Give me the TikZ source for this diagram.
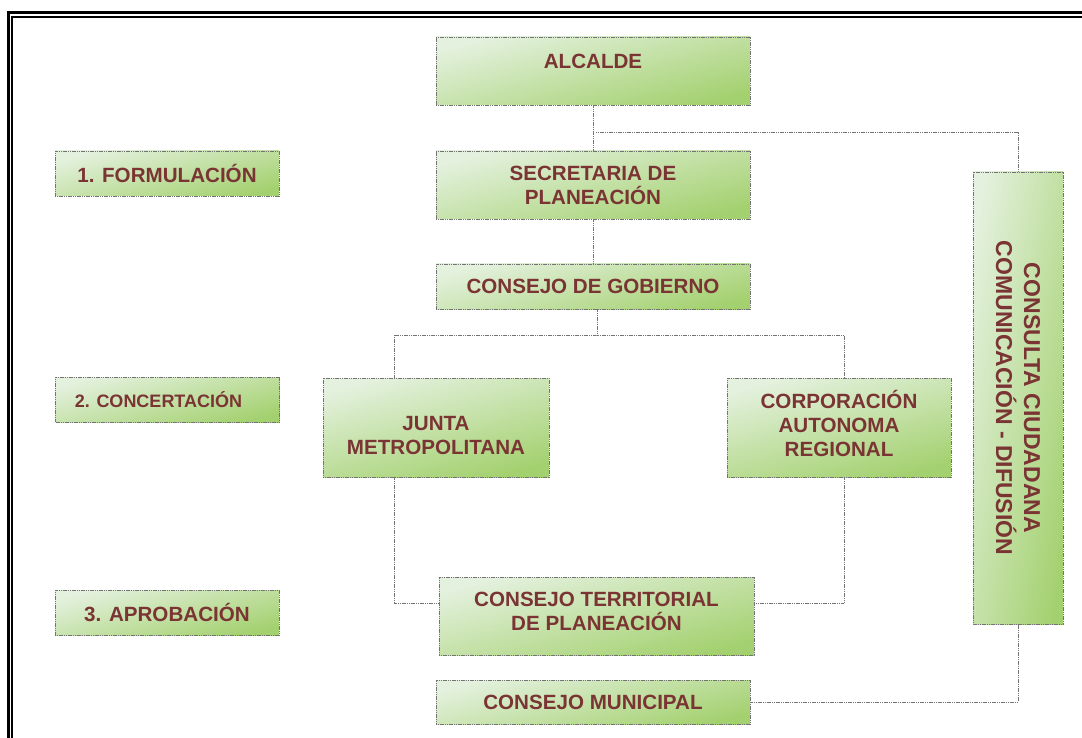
\documentclass[tikz,border=0pt]{standalone}
\usepackage{fontspec}
\setmainfont{Liberation Sans}
\usepackage{xcolor}
\definecolor{txtred}{RGB}{122,52,52}
\definecolor{lightgr}{RGB}{228,241,222}
\definecolor{darkgr}{RGB}{164,209,112}
\definecolor{edgegr}{RGB}{115,115,115}

\begin{document}
\begin{tikzpicture}[x=1pt,y=-1pt,
            box/.style={draw=edgegr, line width=0.7pt, dash pattern=on 1.2pt off 0.6pt,
              top color=lightgr, bottom color=darkgr, shading angle=15,
              text=txtred, font=\bfseries\fontsize{20.6}{24}\selectfont, align=center,
              inner sep=0pt, minimum width=314pt, minimum height=68pt},
            phase/.style={box, minimum width=224pt, minimum height=45pt},
            link/.style={draw=edgegr, line width=0.6pt, dash pattern=on 1.2pt off 0.6pt}]
            \useasboundingbox (0,0) rectangle (1082,738);
            % double frame
            \draw[line width=3pt] (8.5,738) -- (8.5,12.8) -- (1082,12.8);
            \draw[line width=1.8pt] (12.3,738) -- (12.3,17.3) -- (1082,17.3);
            % middle column
            \node[box, text depth=20pt] (A) at (593,71){ALCALDE};
            \node[box] (B) at (593,185){SECRETARIA DE\\PLANEACIÓN};
            \node[box, minimum height=45pt] (C) at (593,286.5){CONSEJO DE GOBIERNO};
            \node[box, minimum width=226pt, minimum height=99pt, text height=55pt] (D) at (436,427.5){JUNTA\\METROPOLITANA};
            \node[box, minimum width=224pt, minimum height=99pt, text depth=8pt] (E) at (839,427.5){CORPORACIÓN\\AUTONOMA\\REGIONAL};
            \node[box, minimum width=315pt, minimum height=78pt, text depth=10pt] (F) at (596.5,616){CONSEJO TERRITORIAL\\DE PLANEACIÓN};
            \node[box, minimum height=44pt] (G) at (593,702){CONSEJO MUNICIPAL};
            \node[box, rotate=-90, shading angle=80, minimum width=452pt, minimum height=90pt,
              font=\bfseries\fontsize{23}{28}\selectfont] (H) at (1018,398){CONSULTA CIUDADANA\\COMUNICACIÓN - DIFUSIÓN};
            % phases
            \node[phase] (I) at (167,173.5){1. FORMULACIÓN};
            \node[phase, font=\bfseries\fontsize{18}{22}\selectfont] (J) at (167.5,399.5){2. CONCERTACIÓN\hspace*{18pt}};
            \node[phase] (K) at (167,612.5){3. APROBACIÓN};
            % links
            \coordinate (T) at (596,132);
            \coordinate (S) at (597,335);
            \draw[link] (A) -- (B);
            \draw[link] (B) -- (C);
            \draw[link] (T) -| (H.west);
            \draw[link] (S |- C.south) -- (S);
            \draw[link] ([xshift=-42pt]D.north) |- (S) -| ([xshift=5pt]E.north);
            \draw[link] ([xshift=-42pt]D.south) |- ([yshift=13pt]F.west);
            \draw[link] ([xshift=5pt]E.south) |- ([yshift=13pt]F.east);
            \draw[link] (G) -| (H.east);
        \end{tikzpicture}
\end{document}
